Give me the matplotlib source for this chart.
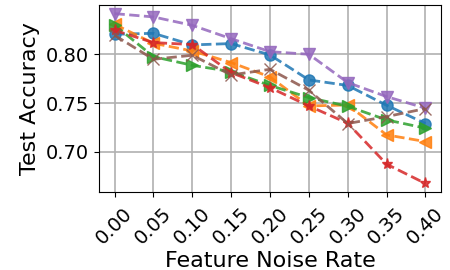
import matplotlib
matplotlib.use("Agg")
import matplotlib.pyplot as plt

noise = [0.00, 0.05, 0.10, 0.15, 0.20, 0.25, 0.30, 0.35, 0.40]
tick_labels = ["0.00", "0.05", "0.10", "0.15", "0.20", "0.25", "0.30", "0.35", "0.40"]

blue = [0.8205, 0.8215, 0.8096, 0.8110, 0.7993, 0.7737, 0.7680, 0.7477, 0.7290]
orange = [0.8307, 0.8113, 0.8034, 0.7915, 0.7768, 0.7470, 0.7480, 0.7173, 0.7105]
green = [0.8300, 0.7976, 0.7887, 0.7822, 0.7680, 0.7556, 0.7467, 0.7327, 0.7242]
red = [0.8246, 0.8120, 0.8100, 0.7812, 0.7658, 0.7470, 0.7293, 0.6873, 0.6675]
purple = [0.8417, 0.8383, 0.8297, 0.8160, 0.8027, 0.8000, 0.7710, 0.7566, 0.7447]
brown = [0.8195, 0.7949, 0.7990, 0.7788, 0.7846, 0.7631, 0.7290, 0.7361, 0.7443]

series = [
    (blue, "tab:blue", "o"),
    (orange, "tab:orange", "<"),
    (green, "tab:green", ">"),
    (red, "tab:red", "*"),
    (purple, "tab:purple", "v"),
    (brown, "tab:brown", "x"),
]

fig = plt.figure(figsize=(4.5, 2.7), dpi=100)
ax = fig.add_axes([0.22, 0.289, 0.76, 0.692])
for vals, c, m in series:
    ax.plot(noise, vals, linestyle="--", marker=m, color=c, markersize=8, linewidth=2, alpha=0.85)

ax.set_xticks(noise)
ax.set_xticklabels(tick_labels, rotation=45, fontsize=14)
ax.tick_params(axis="x", pad=5)
ax.set_yticks([0.70, 0.75, 0.80])
ax.tick_params(axis="y", labelsize=14)
ax.set_xlabel("Feature Noise Rate", fontsize=16, labelpad=2)
ax.set_ylabel("Test Accuracy", fontsize=16)
ax.grid(True, linewidth=1.2)
ax.set_axisbelow(True)
fig.savefig("out.png", dpi=100)
